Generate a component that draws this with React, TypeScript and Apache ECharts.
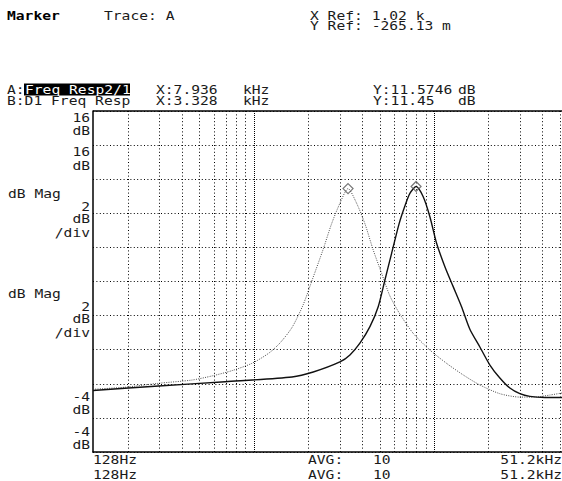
import React, { useEffect, useRef } from "react";
import * as echarts from "echarts";

// Trace A (solid): Freq Resp2/1
const freqA = [128, 296, 693, 1626, 2134, 3000, 3410, 3873, 4402, 4893, 5331, 5807, 6398, 6881, 7334, 7936, 8694, 9469, 10314, 11470, 12750, 14190, 15780, 17930, 20380, 23150, 26300, 29890, 33960, 41130, 51200];
const magA = [-0.39, -0.13, 0.12, 0.4, 0.69, 1.28, 1.69, 2.38, 3.35, 4.52, 6.09, 7.65, 9.41, 10.43, 11.17, 11.57, 10.97, 9.8, 8.24, 6.87, 5.7, 4.52, 3.2, 2.16, 1.1, 0.34, -0.25, -0.58, -0.74, -0.8, -0.8];

// Trace B (dotted): D1 Freq Resp
const freqB = [128, 193, 296, 453, 585, 755, 975, 1207, 1394, 1626, 1870, 2125, 2415, 2698, 3000, 3328, 3713, 4129, 4590, 5111, 5682, 6455, 7651, 9469, 11720, 14490, 17930, 23150, 29890, 36200, 43840, 51200];
const magB = [-0.32, -0.2, 0.03, 0.22, 0.46, 0.77, 1.2, 1.79, 2.39, 3.3, 4.6, 6.21, 7.85, 9.39, 10.59, 11.45, 10.59, 9.39, 7.85, 6.48, 5.15, 4.09, 2.96, 1.98, 1.2, 0.52, -0.07, -0.58, -0.78, -0.78, -0.66, -0.54];

const markerA = [7936, 11.5746];
const markerB = [3328, 11.45];

const minorGridFreqs = [200, 300, 400, 500, 600, 700, 800, 900, 2000, 3000, 4000, 5000, 6000, 7000, 8000, 9000, 20000, 30000, 40000, 50000];
const decadeGridFreqs = [1000, 10000];

const xMin = 128;
const xMax = 51200;
const yMin = -4;
const yMax = 16;
const yStep = 2;

const headerLeft = ["Marker", "Trace: A"];
const headerRef = ["X Ref: 1.02 k", "Y Ref: -265.13 m"];
const rowA = ["A:", "Freq Resp2/1", "X:7.936", "kHz", "Y:11.5746", "dB"];
const rowB = ["B:D1 Freq Resp", "X:3.328", "kHz", "Y:11.45", "dB"];
const yTopLabels = ["16", "dB", "16", "dB"];
const yMidLabels = ["dB Mag", "2", "dB", "/div"];
const yBotLabels = ["-4", "dB", "-4", "dB"];
const xLabelsLeft = ["128Hz", "128Hz"];
const avgLabel = ["AVG:", "10"];
const xLabelsRight = ["51.2kHz", "51.2kHz"];

const FONT = '12px "DejaVu Sans Mono"';
const SX = 1.22;

function txt(text: string, x: number, y: number, align: string = "left", extra: any = {}) {
  return {
    type: "text",
    x,
    y,
    scaleX: SX,
    silent: true,
    z: 100,
    style: {
      text,
      font: extra.font || FONT,
      fill: extra.fill || "#1a1a1a",
      textAlign: align,
      textVerticalAlign: "middle",
      align,
      verticalAlign: "middle",
    },
  };
}

export default function App() {
  const ref = useRef<HTMLDivElement>(null);
  useEffect(() => {
    if (!ref.current) return;
    const chart = echarts.init(ref.current, undefined, { renderer: "svg" });
    const graphics: any[] = [
      { type: "line", silent: true, z: 50, shape: { x1: 93, y1: 111, x2: 562, y2: 111 }, style: { stroke: "#000", lineWidth: 1.5 } },
      txt(headerLeft[0], 7, 16, "left", { font: 'bold 12px "DejaVu Sans Mono"', fill: "#000" }),
      txt(headerLeft[1], 104, 16),
      txt(headerRef[0], 310, 16),
      txt(headerRef[1], 310, 26),
      txt(rowA[0], 7, 89.5),
      { type: "rect", silent: true, z: 90, shape: { x: 24, y: 83.5, width: 106, height: 12 }, style: { fill: "#000" } },
      txt(rowA[1], 25, 89.5, "left", { fill: "#fff" }),
      txt(rowA[2], 156, 89.5),
      txt(rowA[3], 243, 89.5),
      txt(rowA[4], 373, 89.5),
      txt(rowA[5], 458, 89.5),
      txt(rowB[0], 7, 100.5),
      txt(rowB[1], 156, 100.5),
      txt(rowB[2], 243, 100.5),
      txt(rowB[3], 373, 100.5),
      txt(rowB[4], 458, 100.5),
      txt(yTopLabels[0], 90, 117.5, "right"),
      txt(yTopLabels[1], 90, 131, "right"),
      txt(yTopLabels[2], 90, 151.5, "right"),
      txt(yTopLabels[3], 90, 166, "right"),
      txt(yMidLabels[0], 8, 194),
      txt(yMidLabels[1], 90, 207, "right"),
      txt(yMidLabels[2], 90, 219, "right"),
      txt(yMidLabels[3], 90, 233, "right"),
      txt(yMidLabels[0], 8, 294),
      txt(yMidLabels[1], 90, 307, "right"),
      txt(yMidLabels[2], 90, 319, "right"),
      txt(yMidLabels[3], 90, 333, "right"),
      txt(yBotLabels[0], 90, 397, "right"),
      txt(yBotLabels[1], 90, 410, "right"),
      txt(yBotLabels[2], 90, 432, "right"),
      txt(yBotLabels[3], 90, 445, "right"),
      txt(xLabelsLeft[0], 93, 460),
      txt(xLabelsLeft[1], 93, 475),
      txt(avgLabel[0], 308, 460),
      txt(avgLabel[1], 373, 460),
      txt(avgLabel[0], 308, 475),
      txt(avgLabel[1], 373, 475),
      txt(xLabelsRight[0], 562, 460, "right"),
      txt(xLabelsRight[1], 562, 475, "right"),
    ];

    const gridLines = [
      ...minorGridFreqs.map((f) => ({ xAxis: f })),
      ...decadeGridFreqs.map((f) => ({ xAxis: f, lineStyle: { type: [1, 1] } })),
    ];

    chart.setOption({
      animation: false,
      backgroundColor: "#fff",
      grid: { left: 93, top: 111, right: 0, bottom: 29, containLabel: false },
      xAxis: {
        type: "log",
        logBase: 10,
        min: xMin,
        max: xMax,
        axisLine: { show: true, onZero: false, lineStyle: { color: "#000", width: 1.5 } },
        axisTick: { show: false },
        axisLabel: { show: false },
        splitLine: { show: false },
        minorSplitLine: { show: false },
      },
      yAxis: {
        type: "value",
        min: yMin,
        max: yMax,
        interval: yStep,
        axisLine: { show: true, onZero: false, lineStyle: { color: "#000", width: 1.5 } },
        axisTick: { show: false },
        axisLabel: { show: false },
        splitLine: { show: true, lineStyle: { color: "#000", width: 1, type: [1, 2.4] } },
      },
      graphic: graphics,
      series: [
        {
          name: "grid",
          type: "line",
          data: [],
          silent: true,
          z: 1,
          markLine: {
            silent: true,
            symbol: ["none", "none"],
            label: { show: false },
            lineStyle: { color: "#000", width: 1, type: [1, 2.4] },
            data: gridLines,
          },
        },
        {
          name: "B: D1 Freq Resp",
          type: "line",
          data: freqB.map((f, i) => [f, magB[i]]),
          showSymbol: false,
          symbol: "none",
          smooth: 0.25,
          z: 3,
          lineStyle: { color: "#4a4a4a", width: 1, type: [1, 1.3] },
        },
        {
          name: "A: Freq Resp2/1",
          type: "line",
          data: freqA.map((f, i) => [f, magA[i]]),
          showSymbol: false,
          symbol: "none",
          smooth: 0.25,
          z: 4,
          lineStyle: { color: "#111", width: 1.4 },
        },
        {
          name: "markers",
          type: "scatter",
          data: [markerA, markerB],
          symbol: "diamond",
          symbolSize: 10,
          z: 5,
          itemStyle: { color: "rgba(255,255,255,0)", borderColor: "#555", borderWidth: 1.2 },
        },
      ],
    });
    return () => chart.dispose();
  }, []);
  return (
    <div
      ref={ref}
      style={{ position: "absolute", left: 0, top: 0, width: 562, height: 481, background: "#fff" }}
    />
  );
}
